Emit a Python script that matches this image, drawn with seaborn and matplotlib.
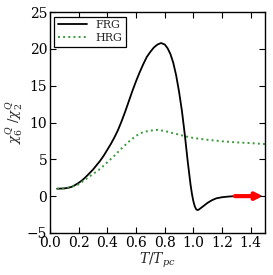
import numpy as np
import pandas as pd
import seaborn as sns
import matplotlib
matplotlib.use("Agg")
import matplotlib.pyplot as plt

# FRG ratio chi6/chi2
frg_t = [0.05, 0.10, 0.125, 0.15, 0.175, 0.20, 0.225, 0.25, 0.275, 0.30, 0.325,
         0.35, 0.375, 0.40, 0.425, 0.45, 0.475, 0.50, 0.525, 0.55, 0.575, 0.60,
         0.625, 0.65, 0.675, 0.70, 0.725, 0.75, 0.775, 0.80, 0.82, 0.84, 0.86,
         0.88, 0.90, 0.92, 0.94, 0.96, 0.98, 0.99, 1.00, 1.01, 1.02, 1.03, 1.04,
         1.06, 1.08, 1.10, 1.13, 1.16, 1.20, 1.25, 1.30, 1.40, 1.47]
frg_val = [1.0, 1.05, 1.12, 1.25, 1.5, 1.8, 2.15, 2.6, 3.1, 3.6, 4.2,
           4.8, 5.5, 6.3, 7.1, 8.0, 9.0, 10.2, 11.5, 12.9, 14.3, 15.6,
           16.8, 17.9, 18.9, 19.6, 20.2, 20.6, 20.8, 20.6, 20.1, 19.3, 18.1,
           16.4, 14.2, 11.6, 8.4, 4.8, 1.6, 0.3, -0.7, -1.4, -1.8, -1.9, -1.8,
           -1.5, -1.2, -0.9, -0.55, -0.3, -0.15, -0.05, 0.0, 0.0, 0.0]

# HRG ratio
hrg_t = [0.05, 0.10, 0.15, 0.20, 0.25, 0.30, 0.35, 0.40, 0.45, 0.50, 0.55, 0.60,
         0.65, 0.70, 0.75, 0.80, 0.85, 0.90, 0.95, 1.00, 1.10, 1.20, 1.30, 1.40, 1.50]
hrg_val = [1.0, 1.05, 1.25, 1.6, 2.3, 3.0, 3.7, 4.6, 5.5, 6.5, 7.4, 8.2,
           8.7, 8.9, 9.0, 8.85, 8.6, 8.35, 8.1, 7.9, 7.65, 7.45, 7.3, 7.2, 7.07]

# red arrow (asymptotic value)
arrow_t = [1.29, 1.485]
arrow_val = 0.0

sns.set_style("ticks")
plt.rcParams["font.family"] = ["DejaVu Serif"]
plt.rcParams["mathtext.fontset"] = "dejavuserif"

frg = pd.DataFrame({"t": frg_t, "val": frg_val})
hrg = pd.DataFrame({"t": hrg_t, "val": hrg_val})

fig = plt.figure(figsize=(2.73, 2.75), dpi=100)
ax = fig.add_axes([0.183, 0.153, 0.788, 0.803])

sns.lineplot(data=frg, x="t", y="val", ax=ax, color="black", lw=1.3, label="FRG")
sns.lineplot(data=hrg, x="t", y="val", ax=ax, color="#3a9a3a", lw=1.4,
             linestyle=":", label="HRG")

ax.annotate("", xy=(arrow_t[1], arrow_val), xytext=(arrow_t[0], arrow_val),
            arrowprops=dict(arrowstyle="-|>", color="red", lw=3,
                            mutation_scale=10, shrinkA=0, shrinkB=0))

ax.set_xlim(0.0, 1.5)
ax.set_ylim(-5, 25)
ax.set_xticks(np.arange(0.0, 1.41, 0.2))
ax.set_yticks(np.arange(-5, 26, 5))
ax.set_xticklabels([f"{v:.1f}" for v in np.arange(0.0, 1.41, 0.2)])
ax.tick_params(direction="in", top=True, right=True, length=4, width=0.8,
               labelsize=10, pad=2, colors="black")
for s in ax.spines.values():
    s.set_linewidth(1.0)
    s.set_color("black")

ax.set_xlabel(r"$T/T_{pc}$", fontsize=10, labelpad=1)
ax.set_ylabel(r"$\chi_6^Q\ /\chi_2^Q$", fontsize=9.5, labelpad=1)

leg = ax.legend(loc="upper left", fontsize=8, handlelength=2.6, fancybox=False,
                framealpha=1, edgecolor="black", borderaxespad=0.4,
                borderpad=0.3, labelspacing=0.3)
leg.get_frame().set_linewidth(0.9)

fig.savefig("out.png", dpi=100)
